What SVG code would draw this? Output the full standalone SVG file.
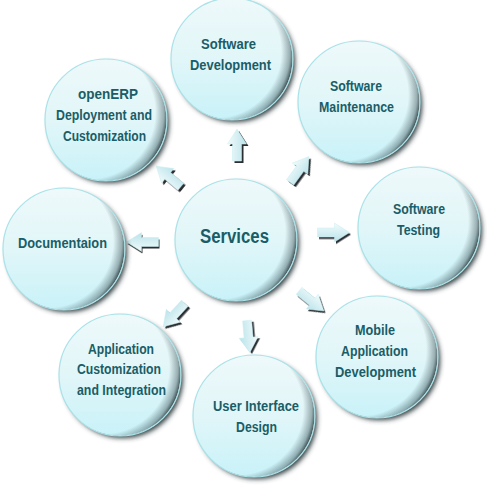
<svg xmlns="http://www.w3.org/2000/svg" xmlns:xlink="http://www.w3.org/1999/xlink" width="487" height="485" viewBox="0 0 487 485">
<defs>
<linearGradient id="ballFill" x1="0" y1="0" x2="0" y2="1">
<stop offset="0" stop-color="#eef9fa"/>
<stop offset="0.5" stop-color="#e1f6f8"/>
<stop offset="1" stop-color="#c8f2f8"/>
</linearGradient>
<radialGradient id="ballShade" cx="36%" cy="44%" r="65%">
<stop offset="0.84" stop-color="#2c4348" stop-opacity="0"/>
<stop offset="0.95" stop-color="#2c4348" stop-opacity="0.4"/>
<stop offset="1" stop-color="#1e2e31" stop-opacity="0.8"/>
</radialGradient>
<linearGradient id="arrowFill" x1="0" y1="0" x2="1" y2="0">
<stop offset="0" stop-color="#f2fbfc"/>
<stop offset="1" stop-color="#b9e3ea"/>
</linearGradient>
<filter id="blur" x="-20%" y="-20%" width="140%" height="140%">
<feGaussianBlur stdDeviation="2.5"/>
</filter>
<filter id="ablur" x="-30%" y="-30%" width="160%" height="160%">
<feGaussianBlur stdDeviation="0.6"/>
</filter>
<path id="arrow" d="M0,-16 L9.5,-1 L4.5,-1 L4.5,16 L-4.5,16 L-4.5,-1 L-9.5,-1 Z"/>
<g id="ball">
<circle cx="3" cy="3" r="60" fill="#2f3a3c" filter="url(#blur)"/>
<circle r="61" fill="url(#ballFill)"/>
<circle r="60.5" fill="url(#ballShade)"/>
<circle r="61" fill="none" stroke="#a9e2e8" stroke-width="1.2"/>
</g>
</defs>
<style>
text { font-family: "Liberation Sans", Arial, sans-serif; font-weight: bold; fill: #1a5d67; text-anchor: middle; font-size: 14px; }
.big { font-size: 20px; }
.ash { fill: #2a2f30; filter: url(#ablur); }
.af { fill: url(#arrowFill); stroke: #c9eef2; stroke-width: 0.5; }
</style>
<rect width="487" height="485" fill="#ffffff"/>

<g id="connectors">
<g transform="translate(239,147) rotate(0)"><use xlink:href="#arrow" class="ash"/></g>
<g transform="translate(237,145) rotate(0)"><use xlink:href="#arrow" class="af"/></g>

<g transform="translate(301.5,171.5) rotate(36)"><use xlink:href="#arrow" class="ash"/></g>
<g transform="translate(299.5,169.5) rotate(36)"><use xlink:href="#arrow" class="af"/></g>

<g transform="translate(335,234.5) rotate(90)"><use xlink:href="#arrow" class="ash"/></g>
<g transform="translate(333.5,232.5) rotate(90)"><use xlink:href="#arrow" class="af"/></g>

<g transform="translate(313,303) rotate(129)"><use xlink:href="#arrow" class="ash"/></g>
<g transform="translate(311.5,301) rotate(129)"><use xlink:href="#arrow" class="af"/></g>

<g transform="translate(250.5,338) rotate(175)"><use xlink:href="#arrow" class="ash"/></g>
<g transform="translate(248.5,336.5) rotate(175)"><use xlink:href="#arrow" class="af"/></g>

<g transform="translate(176,317) rotate(222.5)"><use xlink:href="#arrow" class="ash"/></g>
<g transform="translate(174,315) rotate(222.5)"><use xlink:href="#arrow" class="af"/></g>

<g transform="translate(143.5,244) rotate(270)"><use xlink:href="#arrow" class="ash"/></g>
<g transform="translate(142.5,242) rotate(270)"><use xlink:href="#arrow" class="af"/></g>

<g transform="translate(170.5,178.5) rotate(310)"><use xlink:href="#arrow" class="ash"/></g>
<g transform="translate(168.5,176.5) rotate(310)"><use xlink:href="#arrow" class="af"/></g>
</g>

<g id="node-services">
<use xlink:href="#ball" x="236" y="240"/>
<text class="big" x="234.5" y="243" textLength="69" lengthAdjust="spacingAndGlyphs">Services</text>
</g>

<g id="node-software-development">
<use xlink:href="#ball" x="232" y="59"/>
<text x="228.5" y="49" textLength="55" lengthAdjust="spacingAndGlyphs">Software</text>
<text x="230.5" y="70" textLength="81" lengthAdjust="spacingAndGlyphs">Development</text>
</g>

<g id="node-software-maintenance">
<use xlink:href="#ball" x="359" y="102"/>
<text x="356" y="91" textLength="52" lengthAdjust="spacingAndGlyphs">Software</text>
<text x="356.5" y="112" textLength="75" lengthAdjust="spacingAndGlyphs">Maintenance</text>
</g>

<g id="node-software-testing">
<use xlink:href="#ball" x="419" y="228"/>
<text x="419" y="214" textLength="52" lengthAdjust="spacingAndGlyphs">Software</text>
<text x="418.5" y="235" textLength="43" lengthAdjust="spacingAndGlyphs">Testing</text>
</g>

<g id="node-mobile">
<use xlink:href="#ball" x="377" y="357"/>
<text x="375" y="335" textLength="40" lengthAdjust="spacingAndGlyphs">Mobile</text>
<text x="374.5" y="356" textLength="67" lengthAdjust="spacingAndGlyphs">Application</text>
<text x="375.5" y="377" textLength="81" lengthAdjust="spacingAndGlyphs">Development</text>
</g>

<g id="node-ui-design">
<use xlink:href="#ball" x="254" y="416"/>
<text x="256" y="411" textLength="86" lengthAdjust="spacingAndGlyphs">User Interface</text>
<text x="256.5" y="432" textLength="41" lengthAdjust="spacingAndGlyphs">Design</text>
</g>

<g id="node-app-customization">
<use xlink:href="#ball" x="120" y="375"/>
<text x="121" y="354" textLength="66" lengthAdjust="spacingAndGlyphs">Application</text>
<text x="119" y="374" textLength="84" lengthAdjust="spacingAndGlyphs">Customization</text>
<text x="121.5" y="395" textLength="89" lengthAdjust="spacingAndGlyphs">and Integration</text>
</g>

<g id="node-documentation">
<use xlink:href="#ball" x="64" y="249"/>
<text x="62.5" y="248" textLength="89" lengthAdjust="spacingAndGlyphs">Documentaion</text>
</g>

<g id="node-openerp">
<use xlink:href="#ball" x="106" y="120"/>
<text x="108" y="99" textLength="60" lengthAdjust="spacingAndGlyphs">openERP</text>
<text x="104" y="120" textLength="96" lengthAdjust="spacingAndGlyphs">Deployment and</text>
<text x="104.5" y="141" textLength="83" lengthAdjust="spacingAndGlyphs">Customization</text>
</g>
</svg>
